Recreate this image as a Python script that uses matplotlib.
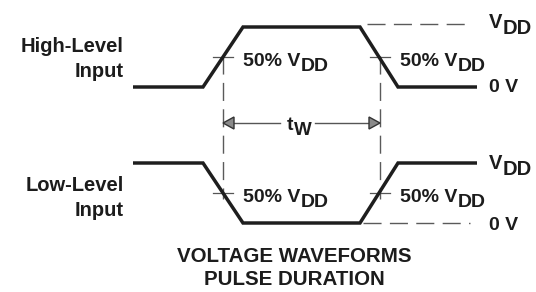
import matplotlib
matplotlib.use("Agg")
import matplotlib.pyplot as plt
from matplotlib.patches import Polygon

# Waveform data (time in arbitrary units, level as fraction of VDD)
times = [133, 203, 243, 360, 398, 477]
high_level_input = [0, 0, 1, 1, 0, 0]
low_level_input = [1, 1, 0, 0, 1, 1]
t50_rise_fall = [223, 380]          # 50 % crossing times
panel_labels = [["High-Level", "Input"], ["Low-Level", "Input"]]
title_lines = ["VOLTAGE WAVEFORMS", "PULSE DURATION"]

# panel baselines (0 V position) and amplitude in figure units
base_top, base_bot, amp = 87, 223, 60

FONT = "Liberation Sans"
TXT = "#1c1c1c"
plt.rcParams["font.family"] = FONT

fig = plt.figure(figsize=(5.36, 2.92), dpi=100)
ax = fig.add_axes([0, 0, 1, 1])
ax.set_xlim(0, 536)
ax.set_ylim(292, 0)
ax.axis("off")

PX = 72 / 100  # points per pixel


def ymap(v, base):
    return base - amp * v


def sub_text(x, y, main, sub, fs=14, sfs=13, drop=5, ha="left"):
    t = ax.text(x, y, main, fontsize=fs, fontweight="bold", color=TXT,
                ha=ha, va="baseline", zorder=5)
    ax.annotate(sub, xy=(1, 0), xycoords=t, xytext=(0.5, -drop * PX),
                textcoords="offset points", fontsize=sfs, fontweight="bold",
                color=TXT, ha="left", va="bottom", zorder=5)
    return t


line_kw = dict(color="#1e1e1e", lw=2.5, solid_capstyle="butt", solid_joinstyle="miter")
dash_kw = dict(color="#5a5a5a", lw=1.0, dashes=(13, 6))

ax.plot(times, [ymap(v, base_top) for v in high_level_input], **line_kw, zorder=3)
ax.plot(times, [ymap(v, base_bot) for v in low_level_input], **line_kw, zorder=3)

# dashed reference lines
ax.plot([times[3] + 7, 470], [ymap(1, base_top) - 3] * 2, **dash_kw)
ax.plot([times[3] + 3, 470], [ymap(0, base_bot)] * 2, **dash_kw)

y50_top = ymap(0.5, base_top)
y50_bot = ymap(0.5, base_bot)
for tx in t50_rise_fall:
    ax.plot([tx, tx], [y50_top - 1, y50_bot + 6], **dash_kw)
    for yy in (y50_top, y50_bot):
        ax.plot([tx - 10, tx + 10], [yy, yy], color="#555555", lw=0.9)

# pulse width arrow
ya = 123
ax.plot([t50_rise_fall[0] + 5, 280], [ya, ya], color="#555555", lw=1.0, zorder=2)
ax.plot([315, t50_rise_fall[1] - 5], [ya, ya], color="#555555", lw=1.0, zorder=2)
L, H = 11, 6
for tx, d in ((t50_rise_fall[0], 1), (t50_rise_fall[1], -1)):
    ax.add_patch(Polygon([[tx, ya], [tx + d * L, ya - H], [tx + d * L, ya + H]],
                         closed=True, facecolor="#8a8a8a", edgecolor="#333333",
                         lw=1.0, zorder=4))
sub_text(287, 130, "t", "W", fs=14, sfs=13.5, drop=5)

# panel labels
fs = 14.5
for lines, base, off in zip(panel_labels, (base_top, base_bot), (-35, -32)):
    for i, s in enumerate(lines):
        ax.text(124, base + off + 25 * i, s, fontsize=fs, fontweight="bold",
                color=TXT, ha="right", va="baseline")

for base, hoff, loff in ((base_top, 1, 5), (base_bot, 6, 7)):
    sub_text(489, ymap(1, base) + hoff, "V", "DD", fs=14.5, sfs=14.5, drop=6)
    ax.text(489, ymap(0, base) + loff, "0 V", fontsize=14, fontweight="bold",
            color=TXT, ha="left", va="baseline")
    for tx in t50_rise_fall:
        sub_text(tx + 20, ymap(0.5, base) + 9, "50% V", "DD", fs=14, sfs=14, drop=5)

for i, s in enumerate(title_lines):
    ax.text(294, 262 + 23 * i, s, fontsize=14.8, fontweight="bold", color=TXT,
            ha="center", va="baseline")

fig.savefig("out.png", dpi=100)
